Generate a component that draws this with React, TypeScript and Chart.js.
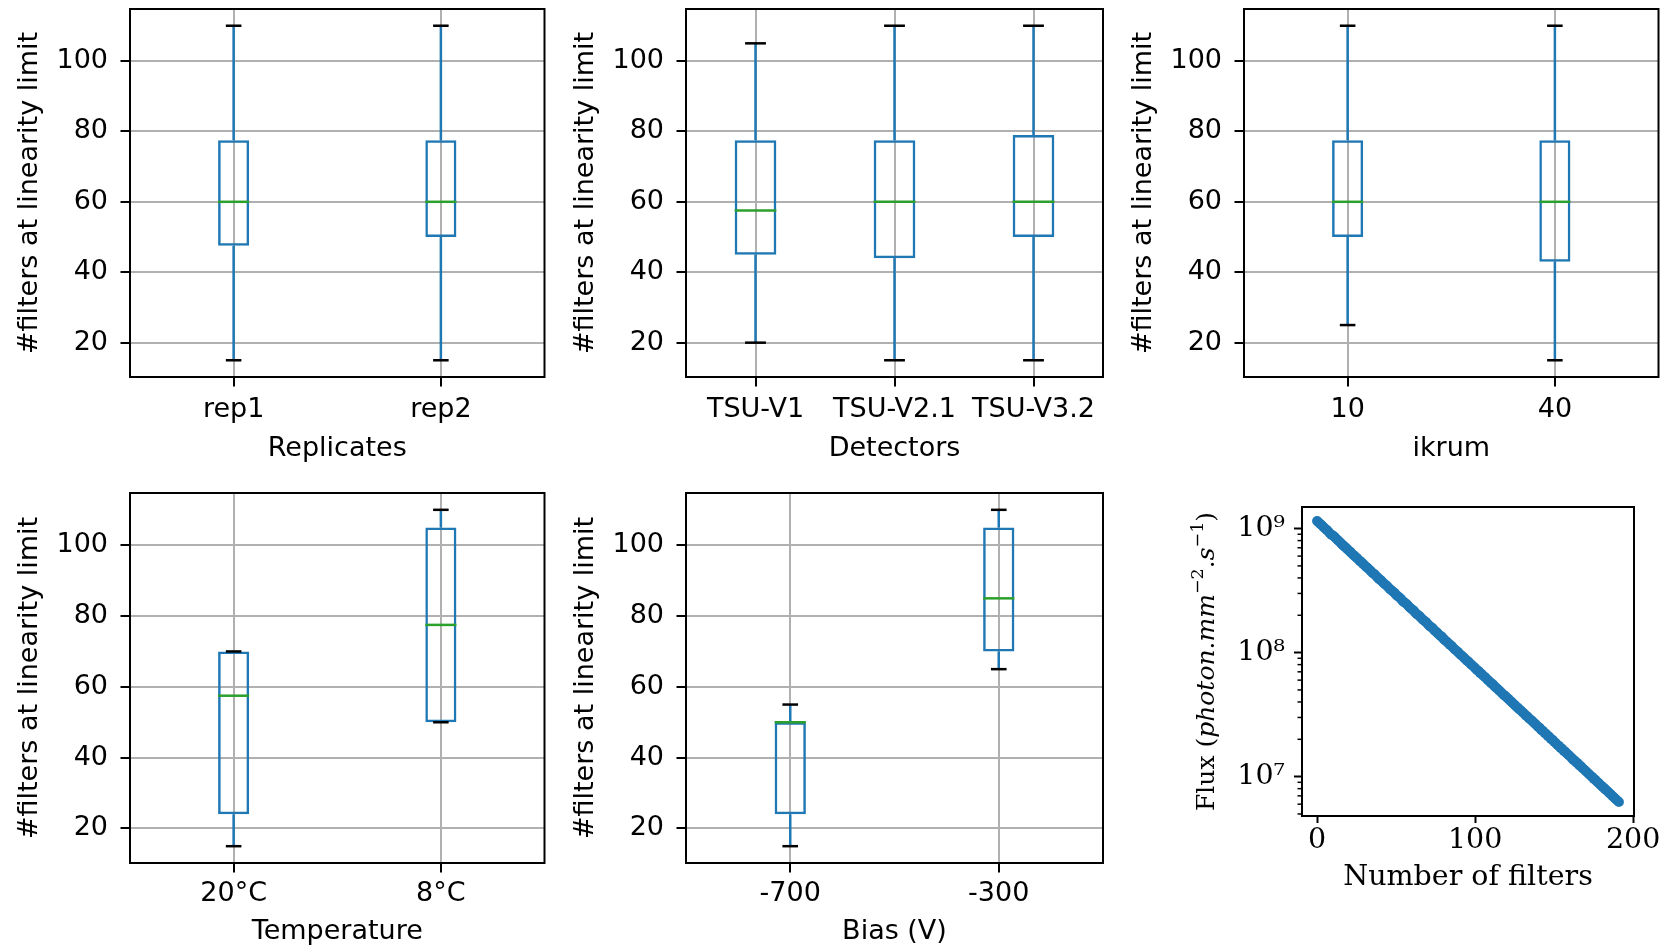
import React, { useEffect, useRef } from 'react';
import { Chart, registerables } from 'chart.js';

Chart.register(...registerables);

const SANS = '"DejaVu Sans", sans-serif';
const SERIF = '"DejaVu Serif", serif';
const TEXT_COLOR = '#000000';
const BOX_BLUE = '#1f77b4';
const MEDIAN_GREEN = '#2ca02c';
const GRID_GRAY = '#b0b0b0';

// ---------------- data ----------------
const boxYLabel = '#filters at linearity limit';
const boxYTicks = [20, 40, 60, 80, 100];

// each entry: [lower whisker, Q1, median, Q3, upper whisker]
const replicateLabels = ['rep1', 'rep2'];
const replicateStats = [
  [15, 47.5, 60, 77.5, 110],
  [15, 50, 60, 77.5, 110],
];

const detectorLabels = ['TSU-V1', 'TSU-V2.1', 'TSU-V3.2'];
const detectorStats = [
  [20, 45, 57.5, 77.5, 105],
  [15, 44, 60, 77.5, 110],
  [15, 50, 60, 79, 110],
];

const ikrumLabels = ['10', '40'];
const ikrumStats = [
  [25, 50, 60, 77.5, 110],
  [15, 43, 60, 77.5, 110],
];

const temperatureLabels = ['20°C', '8°C'];
const temperatureStats = [
  [15, 24, 57.5, 70, 70],
  [50, 50, 77.5, 105, 110],
];

const biasLabels = ['-700', '-300'];
const biasStats = [
  [15, 24, 50, 50, 55],
  [65, 70, 85, 105, 110],
];

// flux (in units of 1e6 photon.mm^-2.s^-1) for 0,1,2,... filters
const fluxMillions = [
  1150, 1118, 1090, 1062, 1030, 1001, 978, 952, 918, 893,
  880, 858, 832, 808, 786, 766, 742, 722, 705, 684,
  666, 649, 630, 612, 597, 582, 565, 549, 536, 522,
  506, 492, 481, 468, 454, 441, 431, 420, 406, 395,
  386, 376, 364, 354, 347, 337, 326, 318, 311, 303,
  293, 285, 279, 272, 262, 255, 250, 244, 235, 229,
  224, 219, 211, 205, 200, 196, 189, 184, 180, 176,
  170, 165, 161, 158, 152, 148, 145, 140, 137, 134,
  129, 125, 123, 119, 116, 113.5, 110, 106.5, 104, 101.5,
  98.5, 95.6, 93.5, 91, 88.1, 85.8, 83.9, 81.2, 79, 77.3,
  75, 72.8, 71.2, 69, 67.4, 65.3, 63.8, 62.1, 60.1, 58.8,
  57, 55.7, 54.2, 52.4, 51.3, 49.7, 48.6, 47.1, 45.8, 44.8,
  43.4, 42.4, 41.1, 40.1, 38.9, 38, 36.8, 36, 34.8, 34.1,
  33, 32.3, 31.2, 30.6, 29.6, 28.9, 28.2, 27.3, 26.7, 25.8,
  25.2, 24.6, 23.7, 23.3, 22.5, 22.1, 21.3, 20.9, 20.1, 19.8,
  19.1, 18.7, 18.1, 17.7, 17.1, 16.8, 16.2, 15.9, 15.4, 15,
  14.6, 14.2, 13.7, 13.5, 13, 12.8, 12.3, 12.1, 11.7, 11.4,
  11.1, 10.8, 10.5, 10.2, 9.95, 9.64, 9.43, 9.13, 8.93, 8.64,
  8.45, 8.19, 8.01, 7.76, 7.58, 7.35, 7.18, 6.95, 6.8, 6.58,
  6.43, 6.25,
];
const fluxXTicks = [0, 100, 200];
const fluxYTicks = [1e7, 1e8, 1e9];
const fluxXTitle = 'Number of filters';
const fluxYLabelParts = [
  { text: 'Flux (', style: 'normal' },
  { text: 'photon', style: 'italic' },
  { text: '.', style: 'normal' },
  { text: 'mm', style: 'italic' },
  { text: '\u22122', style: 'sup' },
  { text: '.', style: 'normal' },
  { text: 's', style: 'italic' },
  { text: '\u22121', style: 'sup' },
  { text: ')', style: 'normal' },
];

// ---------------- layout ----------------
type Rect = { x: number; y: number; w: number; h: number };
type Area = { l: number; t: number; r: number; b: number };

const TOP = { t: 9, b: 377 };
const BOT = { t: 493, b: 863 };

const boxPanels = [
  { labels: replicateLabels, stats: replicateStats, xTitle: 'Replicates', canvas: { x: 0, y: 0, w: 566, h: 470 }, area: { l: 130, t: TOP.t, r: 544.5, b: TOP.b }, widthFrac: 0.15, tickOff: 33, xTitleOff: 71.5 },
  { labels: detectorLabels, stats: detectorStats, xTitle: 'Detectors', canvas: { x: 566, y: 0, w: 559, h: 470 }, area: { l: 686, t: TOP.t, r: 1103, b: TOP.b }, widthFrac: 0.3, tickOff: 33, xTitleOff: 71.5 },
  { labels: ikrumLabels, stats: ikrumStats, xTitle: 'ikrum', canvas: { x: 1125, y: 0, w: 547, h: 470 }, area: { l: 1244, t: TOP.t, r: 1658.5, b: TOP.b }, widthFrac: 0.15, tickOff: 33, xTitleOff: 71.5 },
  { labels: temperatureLabels, stats: temperatureStats, xTitle: 'Temperature', canvas: { x: 0, y: 470, w: 566, h: 477 }, area: { l: 130, t: BOT.t, r: 544.5, b: BOT.b }, widthFrac: 0.15, tickOff: 30.5, xTitleOff: 69 },
  { labels: biasLabels, stats: biasStats, xTitle: 'Bias (V)', canvas: { x: 566, y: 470, w: 590, h: 477 }, area: { l: 686, t: BOT.t, r: 1103, b: BOT.b }, widthFrac: 0.15, tickOff: 30.5, xTitleOff: 69 },
];

const fluxCanvas: Rect = { x: 1160, y: 470, w: 512, h: 477 };
const fluxArea: Area = { l: 1302, t: 507, r: 1634, b: 816 };

// ---------------- plugins ----------------
const framePlugin = {
  id: 'frame',
  afterDraw(chart: any) {
    const { ctx, chartArea: a } = chart;
    ctx.save();
    ctx.strokeStyle = '#000';
    ctx.lineWidth = 2;
    ctx.strokeRect(a.left, a.top, a.right - a.left, a.bottom - a.top);
    ctx.restore();
  },
};

const boxExtrasPlugin = {
  id: 'boxExtras',
  afterDatasetsDraw(chart: any, _args: any, opts: any) {
    const stats: number[][] = opts.stats;
    if (!stats) return;
    const meta = chart.getDatasetMeta(0);
    const ys = chart.scales.y;
    const ctx = chart.ctx;
    const seg = (x1: number, y1: number, x2: number, y2: number) => {
      ctx.beginPath();
      ctx.moveTo(x1, y1);
      ctx.lineTo(x2, y2);
      ctx.stroke();
    };
    ctx.save();
    ctx.lineWidth = 2.5;
    ctx.lineCap = 'butt';
    stats.forEach((s, i) => {
      const bar = meta.data[i];
      const cx = bar.x;
      const w = bar.width;
      const [lo, q1, med, q3, hi] = s.map((v) => ys.getPixelForValue(v));
      ctx.strokeStyle = BOX_BLUE;
      seg(cx, q1, cx, lo);
      seg(cx, q3, cx, hi);
      ctx.strokeStyle = '#000';
      seg(cx - w / 4, lo, cx + w / 4, lo);
      seg(cx - w / 4, hi, cx + w / 4, hi);
      ctx.strokeStyle = MEDIAN_GREEN;
      seg(cx - w / 2, med, cx + w / 2, med);
    });
    ctx.restore();
  },
};

const logMinorTicksPlugin = {
  id: 'logMinor',
  afterDraw(chart: any) {
    const ys = chart.scales.y;
    const ctx = chart.ctx;
    const left = chart.chartArea.left;
    ctx.save();
    ctx.strokeStyle = '#000';
    ctx.lineWidth = 1.5;
    for (let d = 5; d <= 10; d++) {
      for (let m = 2; m <= 9; m++) {
        const v = m * Math.pow(10, d);
        if (v < ys.min || v > ys.max) continue;
        const y = ys.getPixelForValue(v);
        ctx.beginPath();
        ctx.moveTo(left, y);
        ctx.lineTo(left - 4.5, y);
        ctx.stroke();
      }
    }
    ctx.restore();
  },
};

const fluxYLabelPlugin = {
  id: 'fluxYLabel',
  afterDraw(chart: any) {
    const ctx = chart.ctx;
    const a = chart.chartArea;
    const fonts: Record<string, string> = {
      normal: `25px ${SERIF}`,
      italic: `italic 25px ${SERIF}`,
      sup: `17.5px ${SERIF}`,
    };
    ctx.save();
    ctx.fillStyle = TEXT_COLOR;
    ctx.textBaseline = 'alphabetic';
    ctx.textAlign = 'left';
    const widths = fluxYLabelParts.map((p) => {
      ctx.font = fonts[p.style];
      return ctx.measureText(p.text).width;
    });
    const total = widths.reduce((s, w) => s + w, 0);
    const baseX = 1214 - fluxCanvas.x;
    const cy = (a.top + a.bottom) / 2;
    ctx.translate(baseX, cy);
    ctx.rotate(-Math.PI / 2);
    let x = -total / 2;
    fluxYLabelParts.forEach((p, i) => {
      ctx.font = fonts[p.style];
      ctx.fillText(p.text, x, p.style === 'sup' ? -11 : 0);
      x += widths[i];
    });
    ctx.restore();
  },
};

// ---------------- configs ----------------
function boxConfig(p: (typeof boxPanels)[number]) {
  const c = p.canvas;
  const yW = p.area.l - c.x;
  const xH = c.y + c.h - p.area.b;
  const padTop = p.area.t - c.y;
  const padRight = c.x + c.w - p.area.r;
  const size = 27;
  const lh = size * 1.2;
  const tickLen = 9.5;
  const font = { family: SANS, size };
  const yTitlePad = p.area.l - 100.5 - c.x - lh / 2;
  const xTitlePad = c.y + c.h - (p.area.b + p.xTitleOff) - lh / 2;
  const xTickPad = p.tickOff - tickLen - lh / 2;
  const grid = {
    color: GRID_GRAY,
    lineWidth: 2,
    drawTicks: true,
    tickLength: tickLen,
    tickColor: '#000',
    tickWidth: 2,
  };
  return {
    type: 'bar',
    data: {
      labels: p.labels,
      datasets: [
        {
          data: p.stats.map((s) => [s[1], s[3]]),
          backgroundColor: 'rgba(0,0,0,0)',
          borderColor: BOX_BLUE,
          borderWidth: 2.5,
          borderSkipped: false,
          categoryPercentage: p.widthFrac,
          barPercentage: 1,
        },
      ],
    },
    options: {
      responsive: false,
      animation: false,
      devicePixelRatio: 1,
      layout: { padding: { left: 0, top: padTop, right: padRight, bottom: 0 } },
      plugins: {
        legend: { display: false },
        tooltip: { enabled: false },
        boxExtras: { stats: p.stats },
      },
      scales: {
        x: {
          type: 'category',
          offset: true,
          grid: { ...grid, offset: false },
          border: { display: false },
          ticks: { font, color: TEXT_COLOR, padding: xTickPad, maxRotation: 0, autoSkip: false },
          title: { display: true, text: p.xTitle, font, color: TEXT_COLOR, padding: { top: 0, bottom: xTitlePad } },
          afterFit: (s: any) => {
            s.height = xH;
            s.paddingLeft = 0; s.paddingRight = 0; s.paddingTop = 0; s.paddingBottom = 0;
          },
        },
        y: {
          type: 'linear',
          min: 10.25,
          max: 114.75,
          afterBuildTicks: (s: any) => {
            s.ticks = boxYTicks.map((v) => ({ value: v }));
          },
          grid,
          border: { display: false },
          ticks: { font, color: TEXT_COLOR, padding: 12.5 },
          title: { display: true, text: boxYLabel, font, color: TEXT_COLOR, padding: { top: yTitlePad, bottom: 0 } },
          afterFit: (s: any) => {
            s.width = yW;
            s.paddingLeft = 0; s.paddingRight = 0; s.paddingTop = 0; s.paddingBottom = 0;
          },
        },
      },
    },
    plugins: [boxExtrasPlugin, framePlugin],
  };
}

const SUP: Record<string, string> = { '0': '⁰', '1': '¹', '2': '²', '3': '³', '4': '⁴', '5': '⁵', '6': '⁶', '7': '⁷', '8': '⁸', '9': '⁹' };

function fluxConfig() {
  const c = fluxCanvas;
  const a = fluxArea;
  const size = 28.5;
  const lh = size * 1.2;
  const font = { family: SERIF, size };
  const logs = fluxMillions.map((v) => Math.log10(v * 1e6));
  const lmin = Math.min(...logs);
  const lmax = Math.max(...logs);
  const lr = lmax - lmin;
  const xr = fluxMillions.length - 1;
  const xTitlePad = c.y + c.h - 877.7 - lh / 2;
  const xTickPad = 840.7 - a.b - 7 - lh / 2;
  const tickGrid = { drawOnChartArea: false, drawTicks: true, tickColor: '#000', tickWidth: 2 };
  return {
    type: 'scatter',
    data: {
      datasets: [
        {
          data: fluxMillions.map((v, i) => ({ x: i, y: v * 1e6 })),
          backgroundColor: BOX_BLUE,
          borderColor: BOX_BLUE,
          borderWidth: 0,
          pointRadius: 5,
          pointHoverRadius: 5,
        },
      ],
    },
    options: {
      responsive: false,
      animation: false,
      devicePixelRatio: 1,
      layout: { padding: { left: 0, top: a.t - c.y, right: c.x + c.w - a.r, bottom: 0 } },
      plugins: { legend: { display: false }, tooltip: { enabled: false } },
      scales: {
        x: {
          type: 'linear',
          min: -0.05 * xr,
          max: xr * 1.05,
          afterBuildTicks: (s: any) => {
            s.ticks = fluxXTicks.map((v) => ({ value: v }));
          },
          grid: { ...tickGrid, tickLength: 7 },
          border: { display: false },
          ticks: { font, color: TEXT_COLOR, padding: xTickPad, maxRotation: 0, callback: (v: any) => String(v) },
          title: { display: true, text: fluxXTitle, font, color: TEXT_COLOR, padding: { top: 0, bottom: xTitlePad } },
          afterFit: (s: any) => {
            s.height = c.y + c.h - a.b;
            s.paddingLeft = 0; s.paddingRight = 0; s.paddingTop = 0; s.paddingBottom = 0;
          },
        },
        y: {
          type: 'logarithmic',
          min: Math.pow(10, lmin - 0.05 * lr),
          max: Math.pow(10, lmax + 0.05 * lr),
          afterBuildTicks: (s: any) => {
            s.ticks = fluxYTicks.map((v) => ({ value: v, major: true }));
          },
          grid: { ...tickGrid, tickLength: 8 },
          border: { display: false },
          ticks: {
            font,
            color: TEXT_COLOR,
            padding: 9,
            callback: (v: any) => {
              const e = String(Math.round(Math.log10(Number(v))));
              return '10' + e.split('').map((d) => SUP[d] || d).join('');
            },
          },
          afterFit: (s: any) => {
            s.width = a.l - c.x;
            s.paddingLeft = 0; s.paddingRight = 0; s.paddingTop = 0; s.paddingBottom = 0;
          },
        },
      },
    },
    plugins: [framePlugin, logMinorTicksPlugin, fluxYLabelPlugin],
  };
}

// ---------------- components ----------------
function ChartCanvas({ rect, build }: { rect: Rect; build: () => any }) {
  const ref = useRef<HTMLCanvasElement | null>(null);
  useEffect(() => {
    if (!ref.current) return;
    const chart = new Chart(ref.current, build());
    return () => chart.destroy();
  }, []);
  return (
    <canvas
      ref={ref}
      width={rect.w}
      height={rect.h}
      style={{ position: 'absolute', left: rect.x, top: rect.y, width: rect.w, height: rect.h }}
    />
  );
}

export default function App() {
  return (
    <div style={{ position: 'absolute', left: 0, top: 0, width: 1672, height: 947, background: '#ffffff', overflow: 'hidden' }}>
      {boxPanels.map((p, i) => (
        <ChartCanvas key={i} rect={p.canvas} build={() => boxConfig(p)} />
      ))}
      <ChartCanvas rect={fluxCanvas} build={fluxConfig} />
    </div>
  );
}
